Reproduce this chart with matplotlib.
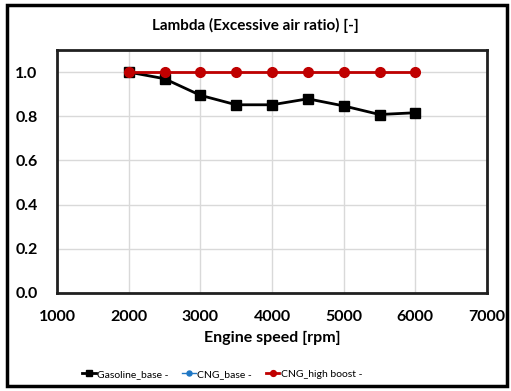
import matplotlib.pyplot as plt
from matplotlib.patches import Rectangle

plt.rcParams['font.family'] = ['Lato', 'DejaVu Sans']
plt.rcParams['font.weight'] = 'bold'

# engine speed [rpm]
rpm = [2000, 2500, 3000, 3500, 4000, 4500, 5000, 5500, 6000]
gasoline_base = [1.0, 0.97, 0.895, 0.852, 0.852, 0.879, 0.847, 0.808, 0.816]
cng_base = [1.0, 1.0, 1.0, 1.0, 1.0, 1.0, 1.0, 1.0, 1.0]
cng_high_boost = [1.0, 1.0, 1.0, 1.0, 1.0, 1.0, 1.0, 1.0, 1.0]

xticks = [1000, 2000, 3000, 4000, 5000, 6000, 7000]
yticks = [0.0, 0.2, 0.4, 0.6, 0.8, 1.0]

fig = plt.figure(figsize=(5.11, 3.91), dpi=100)
ax = fig.add_axes([57 / 511, 1 - 293 / 391, 430 / 511, 243 / 391])

ax.plot(rpm, gasoline_base, color='black', lw=2, marker='s', ms=7,
        label='Gasoline_base -')
ax.plot(rpm, cng_base, color='#1f77c4', lw=1, marker='o', ms=6,
        label='CNG_base -')
ax.plot(rpm, cng_high_boost, color='#c00000', lw=2, marker='o', ms=7,
        label='CNG_high boost -')

ax.set_xlim(1000, 7000)
ax.set_ylim(0, 1.1)
ax.set_xticks(xticks)
ax.set_yticks(yticks)
ax.set_yticklabels(['{:.1f}'.format(v) for v in yticks])
ax.tick_params(length=0, labelsize=11.5, pad=14)
ax.tick_params(axis='x', pad=12)
ax.grid(True, color='#d9d9d9', lw=1)
ax.set_axisbelow(True)
for s in ax.spines.values():
    s.set_linewidth(2)
    s.set_color('#202020')

ax.set_xlabel('Engine speed [rpm]', fontsize=11.5, fontweight='bold', labelpad=5)
fig.text(0.5, 1 - 25 / 391, 'Lambda (Excessive air ratio) [-]', ha='center',
         va='center', fontsize=11, fontweight='bold')

leg = fig.legend(loc='center', bbox_to_anchor=(0.435, 1 - 374 / 391), ncol=3,
                 frameon=False, fontsize=7.5, handlelength=1.3,
                 handletextpad=0.15, columnspacing=1.3, markerscale=0.6)
for t in leg.get_texts():
    t.set_fontweight('normal')

fig.patches.append(Rectangle((7 / 511, 5 / 391), 500 / 511, 381 / 391,
                             transform=fig.transFigure, fill=False,
                             lw=2.5, ec='black'))

plt.savefig('out.png', dpi=100)
